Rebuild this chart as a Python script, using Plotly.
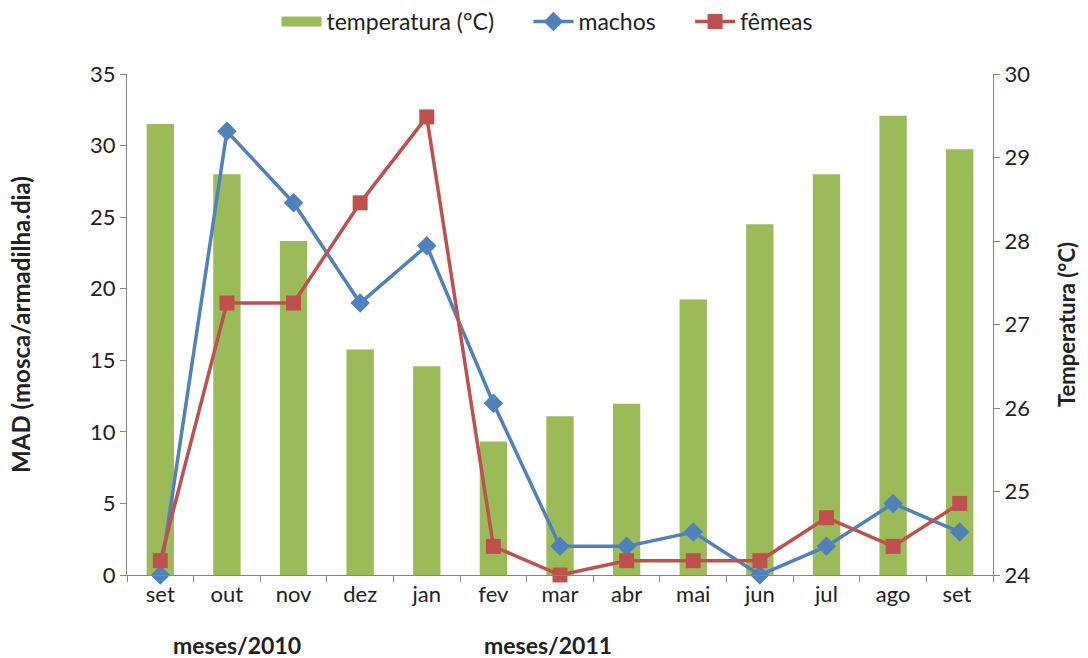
import plotly.graph_objects as go

meses = ["set", "out", "nov", "dez", "jan", "fev", "mar", "abr", "mai", "jun", "jul", "ago", "set "]
temperatura = [29.4, 28.8, 28.0, 26.7, 26.5, 25.6, 25.9, 26.05, 27.3, 28.2, 28.8, 29.5, 29.1]
machos = [0, 31, 26, 19, 23, 12, 2, 2, 3, 0, 2, 5, 3]
femeas = [1, 19, 19, 26, 32, 2, 0, 1, 1, 1, 4, 2, 5]

FONT = "Lato, 'Noto Sans', sans-serif"
AXIS_GRAY = "#868686"
GREEN, BLUE, RED = "#9BBB59", "#4F81BD", "#C0504D"
GAP = "\u00a0" * 5  # spacing after each legend entry

fig = go.Figure()

# temperature bars sit on the right-hand axis (drawn first, underneath)
fig.add_trace(go.Bar(
    x=meses, y=temperatura, name="temperatura (°C)",
    marker=dict(color=GREEN, line=dict(width=0)),
    yaxis="y", width=0.41, showlegend=False, legendgroup="temp",
))
# wide rectangular legend key for the bars
fig.add_trace(go.Scatter(
    x=[None], y=[None], name="temperatura (°C)" + GAP, mode="lines",
    line=dict(color=GREEN, width=11), yaxis="y", legendgroup="temp",
))

# fly counts on the left-hand axis, overlaid on top of the bars
fig.add_trace(go.Scatter(
    x=meses, y=machos, name="machos" + GAP, mode="lines+markers",
    line=dict(color=BLUE, width=3.5),
    marker=dict(symbol="diamond", size=15, color=BLUE),
    yaxis="y2", cliponaxis=False,
))
fig.add_trace(go.Scatter(
    x=meses, y=femeas, name="fêmeas", mode="lines+markers",
    line=dict(color=RED, width=3.5),
    marker=dict(symbol="square", size=15, color=RED),
    yaxis="y2", cliponaxis=False,
))

fig.update_layout(
    width=1088, height=658,
    margin=dict(l=127, r=95, t=74, b=83),
    paper_bgcolor="white", plot_bgcolor="white",
    font=dict(family=FONT, size=22, color="#222222"),
    showlegend=True,
    legend=dict(
        orientation="h", x=0.485, xanchor="center", y=1.0, yanchor="top",
        yref="container", font=dict(size=23), itemwidth=40,
        traceorder="normal",
    ),
    xaxis=dict(
        type="category", range=[-0.5, 12.5], showgrid=False, showline=True,
        linecolor=AXIS_GRAY, ticks="outside", tickson="boundaries", ticklen=6,
        tickcolor=AXIS_GRAY, tickfont=dict(size=22), automargin=False,
    ),
    yaxis=dict(
        side="right", range=[24, 30], dtick=1, showgrid=False, zeroline=False,
        showline=True, linecolor=AXIS_GRAY, ticks="outside", ticklen=6,
        tickcolor=AXIS_GRAY, tickfont=dict(size=22), automargin=False,
        title=dict(text="<b>Temperatura (°C)</b>", font=dict(size=22), standoff=30),
    ),
    yaxis2=dict(
        side="left", overlaying="y", range=[0, 35], dtick=5, showgrid=False,
        zeroline=False, showline=True, linecolor=AXIS_GRAY, ticks="outside",
        ticklen=6, tickcolor=AXIS_GRAY, tickfont=dict(size=22), automargin=False,
        title=dict(text="<b>MAD (mosca/armadilha.dia)</b>", font=dict(size=24), standoff=52),
    ),
    annotations=[
        dict(text="<b>meses/2010</b>", xref="paper", yref="paper", x=(237 - 127) / 866,
             y=-0.14, xanchor="center", yanchor="middle", showarrow=False,
             font=dict(size=23)),
        dict(text="<b>meses/2011</b>", xref="paper", yref="paper", x=(548 - 127) / 866,
             y=-0.14, xanchor="center", yanchor="middle", showarrow=False,
             font=dict(size=23)),
    ],
)

fig.write_html("out.html")
